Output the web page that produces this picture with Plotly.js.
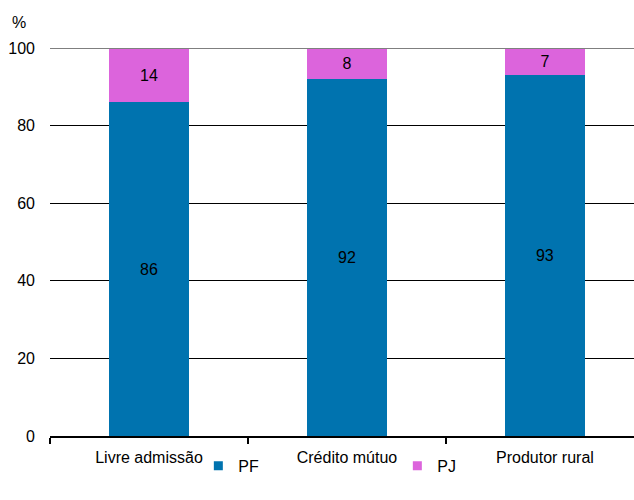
<!DOCTYPE html>
<html>
<head>
<meta charset="utf-8">
<script src="https://cdn.plot.ly/plotly-3.0.1.min.js"></script>
<style>
  html, body { margin: 0; padding: 0; background: #fff; }
  #chart { width: 634px; height: 500px; }
</style>
</head>
<body>
<div id="chart"></div>
<script>
// Segment categories and PF / PJ shares (%)
const categories = ["Livre admissão", "Crédito mútuo", "Produtor rural"];
const pfValues = [86, 92, 93];
const pjValues = [14, 8, 7];
const yTicks = [0, 20, 40, 60, 80, 100];

const BLUE = "#0073AF";
const PINK = "#DC64DC";
const FONT = "Liberation Sans, Arial, sans-serif";

const barCommon = {
  type: "bar",
  x: categories,
  width: 0.4,
  textposition: "inside",
  insidetextanchor: "middle",
  constraintext: "none",
  textfont: { family: FONT, size: 16, color: "#000" },
  hoverinfo: "skip",
  showlegend: false
};

const traces = [
  Object.assign({}, barCommon, {
    name: "PF", y: pfValues, text: pfValues.map(String),
    marker: { color: BLUE }
  }),
  Object.assign({}, barCommon, {
    name: "PJ", y: pjValues, text: pjValues.map(String),
    marker: { color: PINK }
  }),
  // legend entries with small square swatches
  { type: "scatter", mode: "markers", name: "PF", x: [null], y: [null],
    marker: { symbol: "square", size: 9, color: BLUE }, hoverinfo: "skip" },
  { type: "scatter", mode: "markers", name: "PJ", x: [null], y: [null],
    marker: { symbol: "square", size: 9, color: PINK }, hoverinfo: "skip" }
];

const layout = {
  width: 634,
  height: 500,
  margin: { l: 50, r: 0, t: 48, b: 64, pad: 0 },
  barmode: "stack",
  paper_bgcolor: "#fff",
  plot_bgcolor: "#fff",
  font: { family: FONT, size: 16, color: "#000" },
  xaxis: {
    type: "category",
    range: [-0.5, 2.45],
    fixedrange: true,
    showgrid: false,
    showline: true,
    linecolor: "#000",
    linewidth: 2,
    ticks: "outside",
    tickson: "boundaries",
    ticklen: 6,
    tickcolor: "#000",
    tickwidth: 1.5,
    ticklabelstandoff: 6,
    tickfont: { family: FONT, size: 16, color: "#000" }
  },
  yaxis: {
    range: [0, 100],
    fixedrange: true,
    tickvals: yTicks,
    ticktext: yTicks.map(String),
    showgrid: true,
    gridcolor: "#000",
    gridwidth: 1,
    zeroline: false,
    showline: false,
    ticks: "",
    ticklabelstandoff: 14,
    tickfont: { family: FONT, size: 16, color: "#000" }
  },
  shapes: [
    { type: "line", xref: "paper", yref: "y", x0: 0, x1: 1, y0: 100, y1: 100,
      line: { color: "#7f7f7f", width: 2 } }
  ],
  annotations: [
    { text: "%", xref: "paper", yref: "paper", x: -0.068, y: 1.067,
      xanchor: "left", yanchor: "middle", showarrow: false,
      font: { family: FONT, size: 16, color: "#000" } }
  ],
  legend: {
    orientation: "h",
    traceorder: "normal",
    x: 0.254, xanchor: "left",
    y: -0.077, yanchor: "middle",
    entrywidthmode: "pixels",
    entrywidth: 154,
    font: { family: FONT, size: 16, color: "#000" },
    bgcolor: "rgba(0,0,0,0)"
  }
};

Plotly.newPlot("chart", traces, layout, { staticPlot: true, displayModeBar: false });
</script>
</body>
</html>
